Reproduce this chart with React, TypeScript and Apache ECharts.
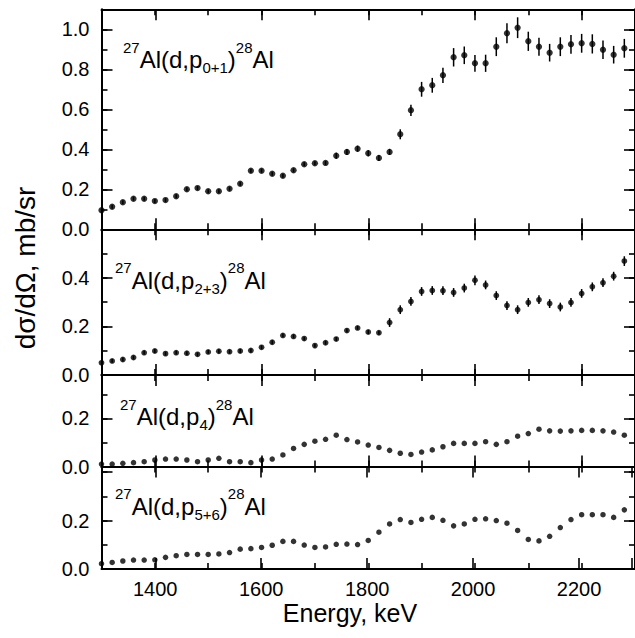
import React, { useEffect, useRef } from "react";
import * as echarts from "echarts";

// ---------- data ----------
const energies = [
  1300, 1320, 1340, 1360, 1380, 1400, 1420, 1440, 1460, 1480,
  1500, 1520, 1540, 1560, 1580, 1600, 1620, 1640, 1660, 1680,
  1700, 1720, 1740, 1760, 1780, 1800, 1820, 1840, 1860, 1880,
  1900, 1920, 1940, 1960, 1980, 2000, 2020, 2040, 2060, 2080,
  2100, 2120, 2140, 2160, 2180, 2200, 2220, 2240, 2260, 2280,
];

const p01 = [
  0.095, 0.113, 0.135, 0.153, 0.153, 0.141, 0.146, 0.165, 0.2, 0.206,
  0.19, 0.19, 0.203, 0.228, 0.293, 0.293, 0.278, 0.268, 0.295, 0.325,
  0.33, 0.332, 0.368, 0.387, 0.403, 0.38, 0.357, 0.387, 0.475, 0.595,
  0.7, 0.72, 0.77, 0.86, 0.87, 0.83, 0.83, 0.913, 0.98, 1.008,
  0.94, 0.913, 0.883, 0.913, 0.925, 0.93, 0.927, 0.898, 0.873, 0.905,
];
const p01Err = [
  0.01, 0.01, 0.01, 0.01, 0.01, 0.01, 0.01, 0.01, 0.01, 0.01,
  0.01, 0.01, 0.01, 0.01, 0.01, 0.01, 0.01, 0.01, 0.01, 0.01,
  0.01, 0.01, 0.015, 0.015, 0.015, 0.015, 0.015, 0.015, 0.025, 0.028,
  0.037, 0.037, 0.038, 0.046, 0.044, 0.042, 0.043, 0.047, 0.05, 0.052,
  0.048, 0.045, 0.044, 0.047, 0.047, 0.047, 0.048, 0.046, 0.044, 0.047,
];

const p23 = [
  0.05, 0.058, 0.064, 0.072, 0.092, 0.099, 0.088, 0.092, 0.09, 0.085,
  0.095, 0.098, 0.096, 0.099, 0.101, 0.114, 0.135, 0.163, 0.159, 0.15,
  0.121, 0.133, 0.148, 0.183, 0.194, 0.177, 0.174, 0.216, 0.269, 0.303,
  0.344, 0.348, 0.347, 0.34, 0.358, 0.39, 0.371, 0.327, 0.286, 0.269,
  0.299, 0.31, 0.294, 0.28, 0.299, 0.336, 0.363, 0.38, 0.407, 0.469,
];
const p23Err = [
  0.008, 0.008, 0.008, 0.008, 0.008, 0.008, 0.008, 0.008, 0.008, 0.008,
  0.008, 0.008, 0.008, 0.008, 0.008, 0.008, 0.008, 0.008, 0.008, 0.008,
  0.008, 0.008, 0.008, 0.008, 0.008, 0.008, 0.008, 0.018, 0.018, 0.018,
  0.018, 0.018, 0.018, 0.018, 0.018, 0.02, 0.018, 0.018, 0.018, 0.018,
  0.018, 0.018, 0.018, 0.018, 0.018, 0.018, 0.018, 0.018, 0.018, 0.02,
];

const p4 = [
  0.01, 0.01, 0.013, 0.016, 0.02, 0.027, 0.031, 0.031, 0.027, 0.02,
  0.027, 0.034, 0.02, 0.02, 0.016, 0.027, 0.031, 0.048, 0.075, 0.092,
  0.105, 0.113, 0.13, 0.112, 0.102, 0.089, 0.079, 0.067, 0.055, 0.05,
  0.06, 0.069, 0.082, 0.096, 0.096, 0.096, 0.103, 0.092, 0.103, 0.126,
  0.137, 0.155, 0.148, 0.147, 0.148, 0.15, 0.15, 0.148, 0.143, 0.13,
];

const p56 = [
  0.022, 0.027, 0.033, 0.037, 0.037, 0.038, 0.048, 0.055, 0.06, 0.06,
  0.06, 0.062, 0.068, 0.082, 0.084, 0.089, 0.098, 0.114, 0.114, 0.099,
  0.089, 0.091, 0.102, 0.103, 0.101, 0.118, 0.152, 0.186, 0.204, 0.192,
  0.205, 0.213, 0.201, 0.178, 0.186, 0.205, 0.207, 0.2, 0.189, 0.159,
  0.122, 0.116, 0.135, 0.171, 0.204, 0.224, 0.224, 0.224, 0.213, 0.244,
];

// axis ranges / tick steps
const X_MIN = 1300;
const X_MAX = 2300;
const X_MAJOR_START = 1400;
const X_MAJOR_STEP = 200;
const X_MINOR_STEP = 100;
const X_LAST_LABEL = 2200;
const Y_MAJOR_STEP = 0.2;
const Y_MINOR_STEP = 0.1;

const xTitle = "Energy, keV";
const yTitle = "dσ/dΩ, mb/sr";

// ---------- layout ----------
const FONT = "Liberation Sans";
const GRID_LEFT = 101.5;
const GRID_WIDTH = 537.5;
const PX_PER_KEV = GRID_WIDTH / (X_MAX - X_MIN);

const panels = [
  { top: 9.3, height: 220, yMax: 1.1, labelMax: 1.0, values: p01, errs: p01Err, size: 6.3,
    label: { x: 123, y: 59.5, sub: "0+1" } },
  { top: 229.3, height: 145.7, yMax: 0.6, labelMax: 0.4, values: p23, errs: p23Err, size: 5.8,
    label: { x: 115, y: 280, sub: "2+3" } },
  { top: 375, height: 91.5, yMax: 0.38, labelMax: 0.2, values: p4, errs: null, size: 5.5,
    label: { x: 120, y: 416.5, sub: "4" } },
  { top: 466.5, height: 102.5, yMax: 0.423, labelMax: 0.2, values: p56, errs: null, size: 5.5,
    label: { x: 115, y: 506, sub: "5+6" } },
];

function buildOption() {
  const canvas = document.createElement("canvas");
  const ctx = canvas.getContext("2d")!;
  const measure = (t: string, size: number) => {
    ctx.font = `${size}px "${FONT}"`;
    return ctx.measureText(t).width;
  };

  const grid: any[] = [];
  const xAxis: any[] = [];
  const yAxis: any[] = [];
  const series: any[] = [];
  const graphic: any[] = [];

  const line = { show: true, onZero: false, lineStyle: { color: "#000", width: 2 } };
  const noLine = { show: false, onZero: false };
  const tickStyle = { color: "#000", width: 1.6 };
  const labelStyle = { fontSize: 20, fontFamily: FONT, color: "#000" };

  panels.forEach((p, i) => {
    const isBottom = i === panels.length - 1;
    const mainGrid = grid.length;
    grid.push({ left: GRID_LEFT, width: GRID_WIDTH, top: p.top, height: p.height });
    const majorGrid = grid.length;
    const offset = (X_MAJOR_START - X_MIN) * PX_PER_KEV;
    grid.push({ left: GRID_LEFT + offset, width: GRID_WIDTH - offset, top: p.top, height: p.height });

    // x axes on main grid: minor ticks every 100 keV, axis lines
    const xMain = xAxis.length;
    ["bottom", "top"].forEach((pos) => {
      xAxis.push({
        type: "value", gridIndex: mainGrid, position: pos,
        min: X_MIN, max: X_MAX, interval: X_MINOR_STEP,
        axisLine: line,
        axisTick: { show: true, inside: true, length: 6, lineStyle: tickStyle },
        axisLabel: { show: false },
        splitLine: { show: false }, silent: true,
      });
    });
    // x axes on offset grid: major ticks every 200 keV from 1400, labels
    ["bottom", "top"].forEach((pos) => {
      const showLabel = isBottom && pos === "bottom";
      xAxis.push({
        type: "value", gridIndex: majorGrid, position: pos,
        min: X_MAJOR_START, max: X_MAX, interval: X_MAJOR_STEP,
        axisLine: noLine,
        axisTick: { show: true, inside: true, length: 11, lineStyle: tickStyle },
        axisLabel: showLabel
          ? { show: true, ...labelStyle, margin: 10,
              formatter: (v: number) => (v <= X_LAST_LABEL ? String(v) : "") }
          : { show: false },
        splitLine: { show: false }, silent: true,
      });
    });

    // y axes on main grid
    const yMain = yAxis.length;
    ["left", "right"].forEach((pos) => {
      yAxis.push({
        type: "value", gridIndex: mainGrid, position: pos,
        min: 0, max: p.yMax, interval: Y_MAJOR_STEP,
        axisLine: line,
        axisTick: { show: true, inside: true, length: 11, lineStyle: tickStyle },
        axisLabel: pos === "left"
          ? { show: true, ...labelStyle, margin: 12, showMaxLabel: true,
              formatter: (v: number) => (v <= p.labelMax + 1e-6 ? v.toFixed(1) : "") }
          : { show: false },
        splitLine: { show: false }, silent: true,
      });
      yAxis.push({
        type: "value", gridIndex: mainGrid, position: pos,
        min: 0, max: p.yMax, interval: Y_MINOR_STEP,
        axisLine: noLine,
        axisTick: { show: true, inside: true, length: 6, lineStyle: tickStyle },
        axisLabel: { show: false },
        splitLine: { show: false }, silent: true,
      });
    });
    // hidden y axis for the offset grid
    yAxis.push({ type: "value", gridIndex: majorGrid, min: 0, max: 1, show: false });

    if (p.errs) {
      const errs = p.errs;
      series.push({
        type: "custom",
        xAxisIndex: xMain,
        yAxisIndex: yMain,
        silent: true,
        z: 2,
        encode: { x: 0, y: 1 },
        data: energies.map((e, k) => [e, p.values[k], errs[k]]),
        renderItem: (_params: any, api: any) => {
          const x = api.value(0);
          const y = api.value(1);
          const er = api.value(2);
          const a = api.coord([x, y - er]);
          const b = api.coord([x, y + er]);
          return {
            type: "line",
            shape: { x1: a[0], y1: a[1], x2: b[0], y2: b[1] },
            style: { stroke: "#000", lineWidth: 1.5 },
          };
        },
      });
    }
    series.push({
      type: "scatter",
      xAxisIndex: xMain,
      yAxisIndex: yMain,
      silent: true,
      z: 3,
      symbol: "circle",
      symbolSize: p.size,
      itemStyle: { color: "#000" },
      data: energies.map((e, k) => [e, p.values[k]]),
    });

    // reaction label: 27Al(d,p_x)28Al
    const parts = [
      { t: "27", size: 15, dy: -12.5 },
      { t: "Al(d,p", size: 24, dy: 0 },
      { t: p.label.sub, size: 15, dy: 8 },
      { t: ")", size: 24, dy: 0 },
      { t: "28", size: 15, dy: -12.5 },
      { t: "Al", size: 24, dy: 0 },
    ];
    let cx = p.label.x;
    parts.forEach((pt) => {
      graphic.push({
        type: "text",
        x: cx,
        y: p.label.y + pt.dy,
        silent: true,
        style: {
          text: pt.t, fontSize: pt.size, fontFamily: FONT, fill: "#000",
          align: "left", verticalAlign: "middle", textAlign: "left", textVerticalAlign: "middle",
        },
      });
      cx += measure(pt.t, pt.size);
    });
  });

  graphic.push({
    type: "text", x: 350, y: 613, silent: true,
    style: {
      text: xTitle, fontSize: 25, fontFamily: FONT, fill: "#000",
      align: "center", verticalAlign: "middle", textAlign: "center", textVerticalAlign: "middle",
    },
  });
  graphic.push({
    type: "text", x: 25, y: 268, rotation: Math.PI / 2, silent: true,
    style: {
      text: yTitle, fontSize: 28, fontFamily: FONT, fill: "#000",
      align: "center", verticalAlign: "middle", textAlign: "center", textVerticalAlign: "middle",
    },
  });

  return { animation: false, backgroundColor: "#fff", grid, xAxis, yAxis, series, graphic };
}

export default function App() {
  const ref = useRef<HTMLDivElement>(null);
  useEffect(() => {
    document.body.style.margin = "0";
    if (!ref.current) return;
    const chart = echarts.init(ref.current, null, { renderer: "svg" });
    chart.setOption(buildOption() as any);
    return () => chart.dispose();
  }, []);
  return <div ref={ref} style={{ width: 635, height: 638, overflow: "hidden" }} />;
}
